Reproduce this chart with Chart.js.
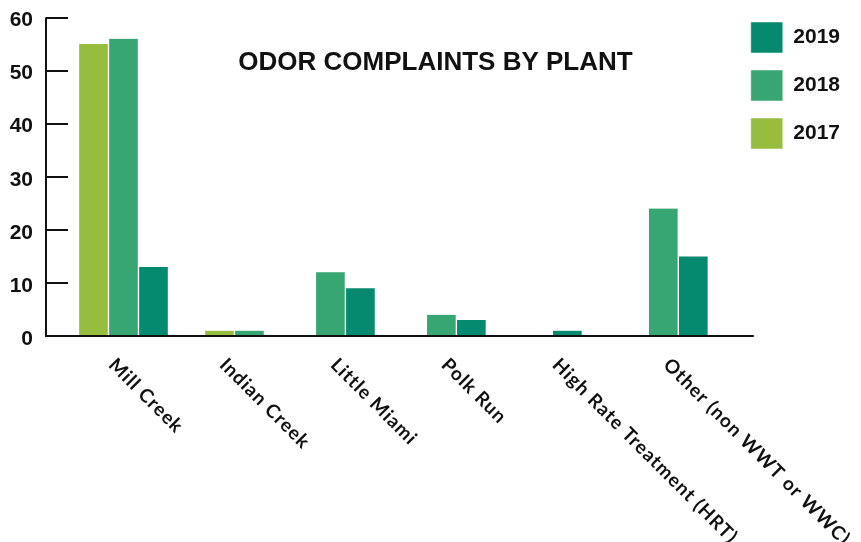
<!DOCTYPE html>
<html>
<head>
<meta charset="utf-8">
<script src="https://cdn.jsdelivr.net/npm/chart.js@4/dist/chart.umd.min.js"></script>
<style>
  html, body { margin: 0; padding: 0; background: #fff; }
  #wrap { width: 861px; height: 542px; position: relative; }
</style>
</head>
<body>
<div id="wrap"><canvas id="odorChart"></canvas></div>
<script>
const plants = ['Mill Creek', 'Indian Creek', 'Little Miami', 'Polk Run', 'High Rate Treatment (HRT)', 'Other (non WWT or WWC)'];
const complaints2017 = [55, 1, null, null, null, null];
const complaints2018 = [56, 1, 12, 4, null, 24];
const complaints2019 = [13, null, 9, 3, 1, 15];
const chartTitle = 'ODOR COMPLAINTS BY PLANT';

const colors = {
  y2017: '#97bd3e',
  y2018: '#38a673',
  y2019: '#058a70',
  ink: '#111111',
};

const axisPlugin = {
  id: 'axisAndLabels',
  afterDraw(chart) {
    const ctx = chart.ctx;
    const area = chart.chartArea;
    const x = chart.scales.x;
    const y = chart.scales.y;
    const axisX = area.left - y.options.grid.tickLength;
    const zeroY = y.getPixelForValue(0);

    ctx.save();
    ctx.strokeStyle = colors.ink;
    ctx.lineWidth = 2;
    ctx.beginPath();
    ctx.moveTo(axisX, y.getPixelForValue(60));
    ctx.lineTo(axisX, zeroY + 1);
    ctx.moveTo(axisX, zeroY);
    ctx.lineTo(area.right + 20, zeroY);
    ctx.stroke();

    // category labels, rotated down-right
    ctx.fillStyle = colors.ink;
    ctx.font = 'bold 19px Lato';
    ctx.letterSpacing = '1px';
    ctx.textAlign = 'left';
    ctx.textBaseline = 'alphabetic';
    plants.forEach((name, i) => {
      ctx.save();
      ctx.translate(x.getPixelForValue(i) - 16, zeroY + 30);
      ctx.rotate(Math.PI / 4);
      ctx.fillText(name, 0, 0);
      ctx.restore();
    });

    ctx.letterSpacing = '0px';
    ctx.font = 'bold 26px "Liberation Sans", Arial, sans-serif';
    ctx.textAlign = 'center';
    ctx.fillText(chartTitle, chart.width / 2 + 5, area.top + 52.5);
    ctx.restore();
  }
};

function getChartOptions() {
  return {
    responsive: true,
    maintainAspectRatio: false,
    animation: false,
    skipNull: true,
    layout: { padding: { top: 5, right: 11, bottom: 206, left: 0 } },
    plugins: {
      legend: {
        position: 'right',
        align: 'start',
        reverse: true,
        labels: {
          boxWidth: 32,
          boxHeight: 31,
          padding: 17,
          color: colors.ink,
          font: { family: '"Liberation Sans", Arial, sans-serif', size: 21, weight: 'bold' },
        },
      },
      tooltip: { enabled: false },
    },
    scales: {
      x: {
        display: false,
      },
      y: {
        min: 0,
        max: 60,
        afterFit(scale) { scale.width = 68; },
        border: { display: false },
        grid: {
          drawOnChartArea: false,
          drawTicks: true,
          tickLength: 22,
          color: colors.ink,
          lineWidth: 2,
        },
        ticks: {
          stepSize: 10,
          padding: 13,
          labelOffset: 3,
          color: colors.ink,
          font: { family: '"Liberation Sans", Arial, sans-serif', size: 21, weight: 'bold', lineHeight: 0.43 },
        },
      },
    },
  };
}

function barSet(label, data, color) {
  return {
    label,
    data,
    backgroundColor: color,
    borderColor: '#ffffff',
    borderWidth: { left: 1, right: 1, top: 0, bottom: 0 },
    barThickness: 30,
  };
}

new Chart(document.getElementById('odorChart'), {
  type: 'bar',
  data: {
    labels: plants,
    datasets: [
      barSet('2017', complaints2017, colors.y2017),
      barSet('2018', complaints2018, colors.y2018),
      barSet('2019', complaints2019, colors.y2019),
    ],
  },
  options: getChartOptions(),
  plugins: [axisPlugin],
});
</script>
</body>
</html>
